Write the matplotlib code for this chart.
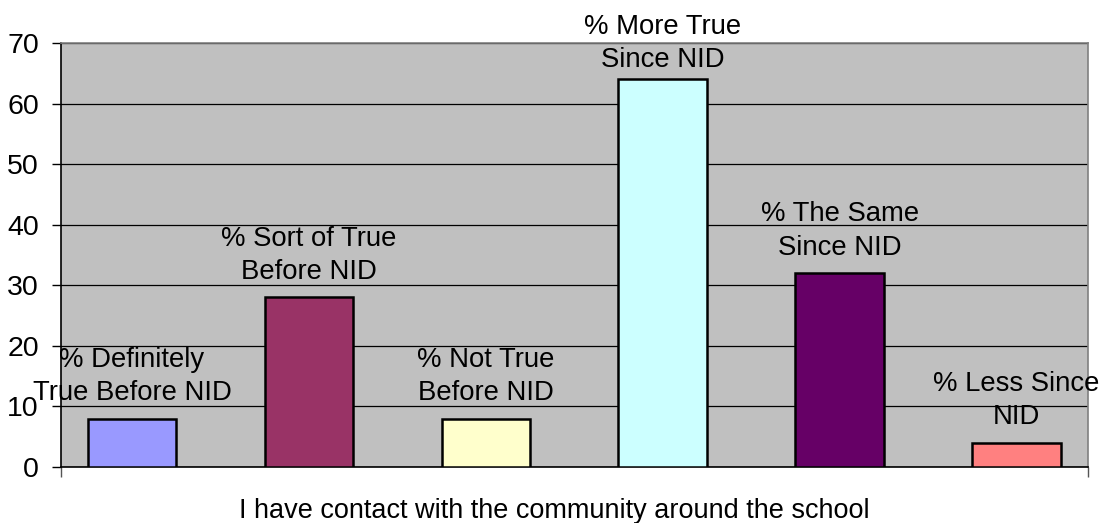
import matplotlib
matplotlib.use("Agg")
import matplotlib.pyplot as plt

plt.rcParams['font.family'] = ['Liberation Sans', 'DejaVu Sans']

series_labels = ["% Definitely\nTrue Before NID", "% Sort of True\nBefore NID", "% Not True\nBefore NID",
                 "% More True\nSince NID", "% The Same\nSince NID", "% Less Since\nNID"]
values = [8, 28, 8, 64, 32, 4]
colors = ["#9999FF", "#993366", "#FFFFCC", "#CCFFFF", "#660066", "#FF8080"]
xlabel = "I have contact with the community around the school"
yticks = [0, 10, 20, 30, 40, 50, 60, 70]

fig = plt.figure(figsize=(11.09, 5.23), dpi=100)
ax = fig.add_axes([61/1109, 1-467/523, (1088-61)/1109, (467-43)/523])
ax.set_facecolor("#C0C0C0")

pos = list(range(len(values)))
ax.bar(pos, values, width=0.5, color=colors, edgecolor="black", linewidth=1.8, zorder=3)
# labels near the top of the chart are pushed down a little (as Excel does)
for x, v, lab in zip(pos, values, series_labels):
    off = 9 if v < 60 else 4.5
    ax.annotate(lab, (x, v), xytext=(0, off), textcoords="offset points",
                ha="center", va="bottom", fontsize=19.8, linespacing=1.36, zorder=4)

ax.set_xlim(-0.401, 5.404)
ax.set_ylim(0, 70)
ax.set_yticks(yticks)
ax.yaxis.grid(True, color="black", linewidth=0.9, zorder=1)
ax.set_axisbelow(True)
ax.tick_params(axis="y", labelsize=20.5, length=6.5, width=1, direction="out", pad=9.5)
ax.set_xticks([-0.401, 5.404])
ax.set_xticklabels([])
ax.tick_params(axis="x", length=7, width=1, direction="out", color="#555555")
for s in ["top", "right"]:
    ax.spines[s].set_color("#808080")
    ax.spines[s].set_linewidth(1.2)
for s in ["left", "bottom"]:
    ax.spines[s].set_color("black")
    ax.spines[s].set_linewidth(1.2)

fig.text(0.5, 1-511/523, xlabel, ha="center", va="center", fontsize=19.5)

fig.savefig("out.png", dpi=100)
